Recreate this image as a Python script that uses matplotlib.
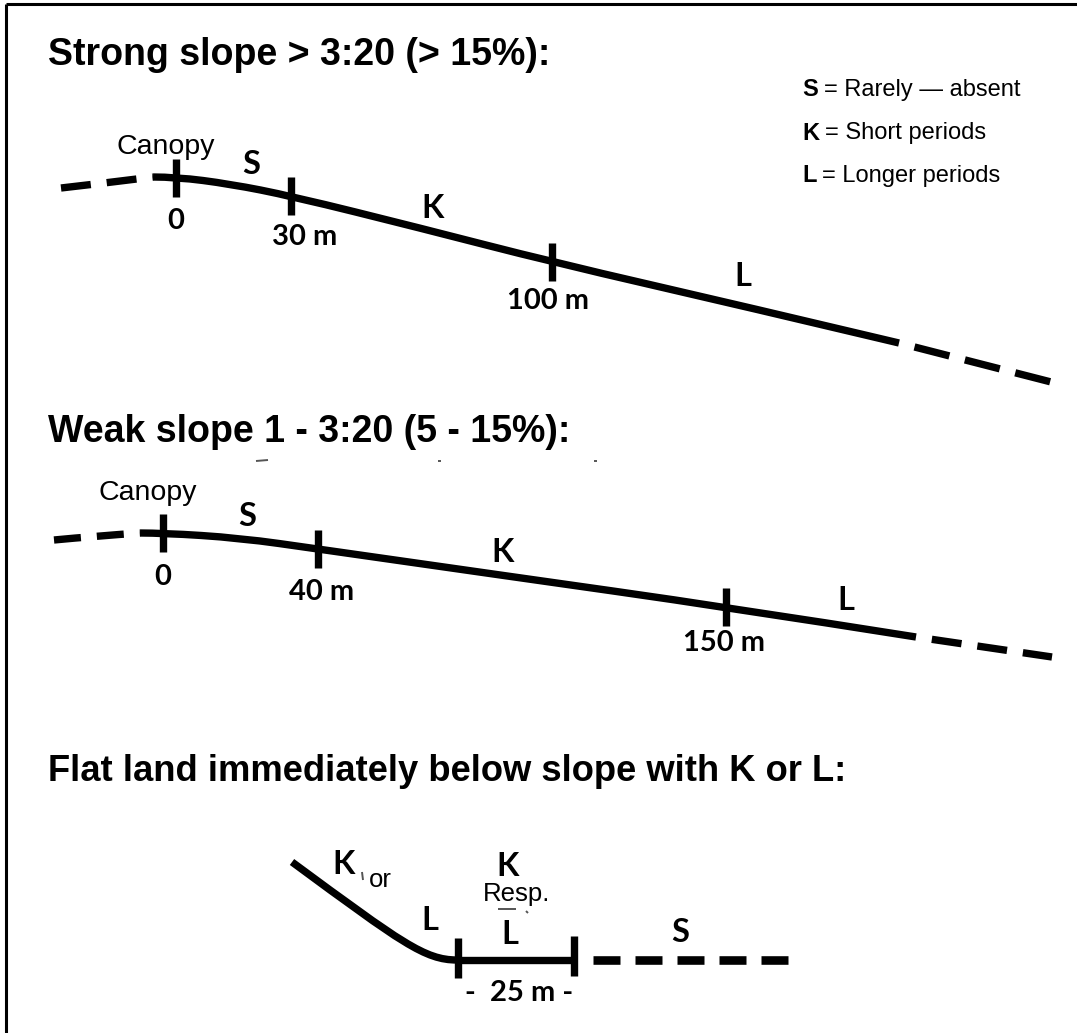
import matplotlib.pyplot as plt
from matplotlib.path import Path
from matplotlib.patches import PathPatch

plt.rcParams["lines.scale_dashes"] = False

# --- data (pixel coordinates of the original drawing, y grows downward) ---
titles = ["Strong slope > 3:20 (> 15%):",
          "Weak slope 1 - 3:20 (5 - 15%):",
          "Flat land immediately below slope with K or L:"]
title_y = [65, 442, 781]
title_size = [27, 27, 26.2]

legend_keys = ["S", "K", "L"]
legend_text = ["= Rarely \u2014 absent", "= Short periods", "= Longer periods"]
legend_y = [90, 133, 176]

# strong slope profile
s1_dash_l = [(61, 188), (105, 183), (153, 177)]
s1_curve = [(153, 177), (176, 177), (230, 184), (291, 196),
            (420, 228), (552, 262), (743, 306), (899, 343)]
s1_dash_r = [(899, 343), (1055, 383)]
s1_ticks_x = [176, 291, 552]
s1_ticks_y = [178, 196, 262]
s1_tick_lbl = ["0", "30 m", "100 m"]
s1_tick_lbl_xy = [(176, 221), (305, 237), (548, 301)]
s1_zone = ["S", "K", "L"]
s1_zone_xy = [(251, 164), (433, 208), (743, 277)]
s1_canopy_xy = (166, 147)

# weak slope profile
s2_dash_l = [(54, 540), (96, 536), (140, 533)]
s2_curve = [(140, 533), (163, 533), (240, 538), (318, 549),
            (500, 575), (726, 607), (916, 637)]
s2_dash_r = [(916, 637), (1052, 657)]
s2_ticks_x = [163, 318, 726]
s2_ticks_y = [533, 549, 607]
s2_tick_lbl = ["0", "40 m", "150 m"]
s2_tick_lbl_xy = [(163, 577), (322, 592), (724, 643)]
s2_zone = ["S", "K", "L"]
s2_zone_xy = [(247, 517), (503, 553), (846, 600)]
s2_canopy_xy = (148, 493)

# flat land below slope (cubic bezier: start, two controls, end)
s3_curve = [(292, 862), (402, 943), (425, 960), (457, 960)]
s3_flat = [(457, 960), (574, 960)]
s3_dash = [(593, 960), (793, 960)]
s3_ticks_x = [458, 574]
s3_ticks_y = [958, 956]
s3_bold = ["K", "L", "K", "L", "S"]
s3_bold_xy = [(344, 864), (430, 920), (508, 867), (510, 934), (680, 932)]
s3_small = ["or", "Resp."]
s3_small_xy = [(380, 880), (517, 894)]
s3_dist = "-  25 m -"
s3_dist_xy = (519, 993)

# leftover specks of overlapping text in the source drawing
specks_x = [(256, 268), (438, 441), (594, 597), (362, 363), (498, 516), (526, 528)]
specks_y = [(461, 460), (461, 461), (461, 461), (872, 880), (909, 909), (911, 913)]

W, H = 1077, 1033
PX = 0.72  # points per pixel at dpi 100
fig = plt.figure(figsize=(W / 100, H / 100), dpi=100)
ax = fig.add_axes([0, 0, 1, 1])
ax.set_xlim(0, W)
ax.set_ylim(H, 0)
ax.axis("off")

LW = 5.3
bold_lbl = dict(family=["Lato", "DejaVu Sans"], fontweight="bold",
                ha="center", va="center", color="black")
arial = ["Liberation Sans", "DejaVu Sans"]

# frame: top and left only
ax.plot([6, W], [4, 4], color="black", lw=2.2, solid_capstyle="butt")
ax.plot([6, 6], [4, H], color="black", lw=2.2, solid_capstyle="butt")

for t, y, fs in zip(titles, title_y, title_size):
    ax.text(48, y, t, family=arial, fontweight="bold", fontsize=fs,
            ha="left", va="baseline")

# legend with bold key letter
fig.canvas.draw()
rend = fig.canvas.get_renderer()
for k, txt, y in zip(legend_keys, legend_text, legend_y):
    tk = ax.text(802, y, k, family=arial, fontweight="bold", fontsize=17,
                 ha="left", va="center")
    bb = tk.get_window_extent(rend)
    x1 = ax.transData.inverted().transform((bb.x1, 0))[0]
    ax.text(x1 + 6, y, txt, family=arial, fontsize=17, ha="left", va="center")


def smooth(pts, lw, dash=None):
    # quadratic-Bezier smoothing through the listed points
    if len(pts) == 2:
        verts, codes = pts, [Path.MOVETO, Path.LINETO]
    else:
        verts = [pts[0]]
        codes = [Path.MOVETO]
        for i in range(1, len(pts) - 1):
            mid = ((pts[i][0] + pts[i + 1][0]) / 2, (pts[i][1] + pts[i + 1][1]) / 2)
            if i == len(pts) - 2:
                mid = pts[-1]
            verts += [pts[i], mid]
            codes += [Path.CURVE3, Path.CURVE3]
    p = PathPatch(Path(verts, codes), fill=False, lw=lw, ec="black",
                  capstyle="butt", joinstyle="round")
    if dash is not None:
        on, off, gap_first = dash
        offset = on * PX if gap_first else 0
        p.set_linestyle((offset, (on * PX, off * PX)))
    ax.add_patch(p)


def profile(dash_l, curve, dash_r, tx, ty, lbls, lbl_xy, zones, zone_xy, canopy,
            dl, dr):
    smooth(dash_l, LW, dash=dl)
    smooth(curve, LW)
    smooth(dash_r, LW, dash=dr)
    for x, y in zip(tx, ty):
        ax.plot([x, x], [y - 19, y + 19], color="black", lw=LW,
                solid_capstyle="butt")
    for s, (x, y) in zip(lbls, lbl_xy):
        ax.text(x, y, s, fontsize=21, **bold_lbl)
    for s, (x, y) in zip(zones, zone_xy):
        ax.text(x, y, s, fontsize=23.5, **bold_lbl)
    ax.text(canopy[0], canopy[1], "Canopy", family=arial, fontsize=20.5,
            ha="center", va="center")


profile(s1_dash_l, s1_curve, s1_dash_r, s1_ticks_x, s1_ticks_y, s1_tick_lbl,
        s1_tick_lbl_xy, s1_zone, s1_zone_xy, s1_canopy_xy,
        (30, 16, False), (36, 16, True))
profile(s2_dash_l, s2_curve, s2_dash_r, s2_ticks_x, s2_ticks_y, s2_tick_lbl,
        s2_tick_lbl_xy, s2_zone, s2_zone_xy, s2_canopy_xy,
        (27, 16, False), (30, 16, True))

# flat land section
ax.add_patch(PathPatch(Path(s3_curve, [Path.MOVETO, Path.CURVE4, Path.CURVE4, Path.CURVE4]),
                       fill=False, lw=LW, ec="black", capstyle="butt"))
smooth(s3_flat, LW)
smooth(s3_dash, 6.2, dash=(27, 15, False))
for x, y in zip(s3_ticks_x, s3_ticks_y):
    ax.plot([x, x], [y - 20, y + 20], color="black", lw=LW, solid_capstyle="butt")
for s, (x, y) in zip(s3_bold, s3_bold_xy):
    ax.text(x, y, s, fontsize=23.5, **bold_lbl)
for s, (x, y) in zip(s3_small, s3_small_xy):
    ax.text(x, y, s, family=arial, fontsize=18.5, ha="center", va="center")
ax.text(s3_dist_xy[0], s3_dist_xy[1], s3_dist, fontsize=21, **bold_lbl)

for xs, ys in zip(specks_x, specks_y):
    ax.plot(xs, ys, color="#555555", lw=1.4, solid_capstyle="butt")

fig.savefig("out.png", dpi=100, facecolor="white")
